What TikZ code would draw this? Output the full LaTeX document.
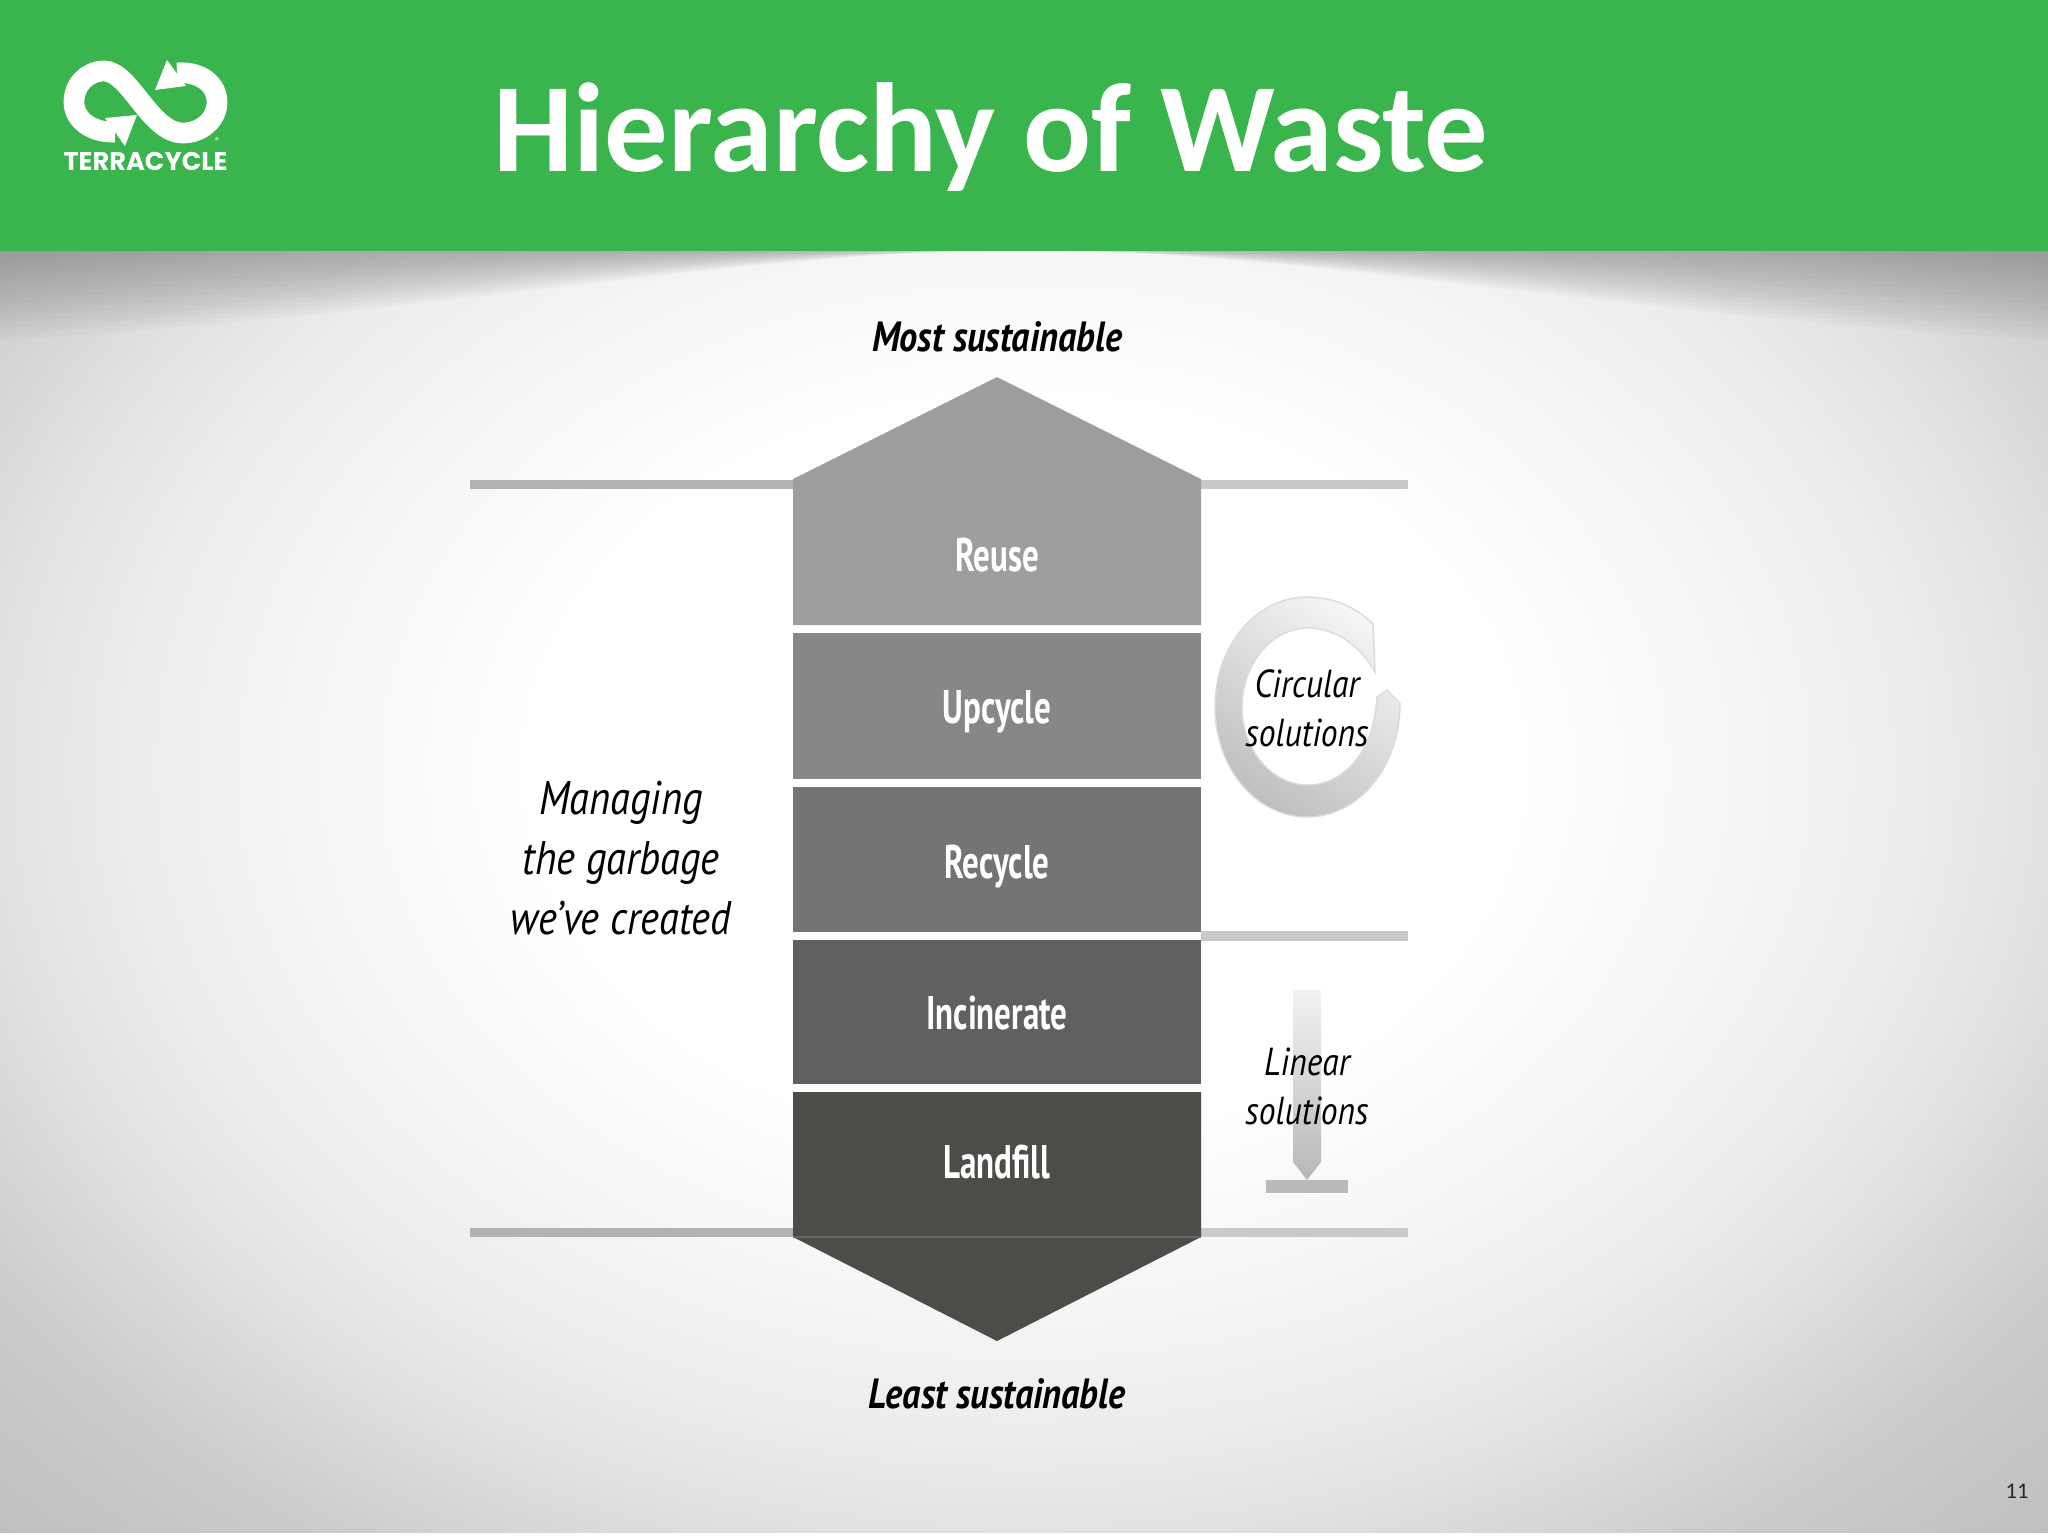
\documentclass[tikz,border=0pt]{standalone}
\usepackage{fontspec}
\setmainfont{Carlito}
\newfontfamily\logofont{Poppins}
\newfontfamily\barfont[FakeStretch=0.70]{PT Sans}
\newfontfamily\notefont[FakeStretch=0.86]{PT Sans}
\definecolor{bandgreen}{HTML}{3AB54D}
\definecolor{reusegray}{HTML}{9E9D9F}
\definecolor{upcyclegray}{HTML}{868885}
\definecolor{recyclegray}{HTML}{747572}
\definecolor{incinerategray}{HTML}{625F62}
\definecolor{landfillgray}{HTML}{4D4C48}
\pgfdeclareradialshading{slidebg}{\pgfpointorigin}{rgb(0bp)=(1,1,1); rgb(12bp)=(1,1,1); rgb(17bp)=(0.965,0.965,0.975); rgb(22bp)=(0.925,0.925,0.935); rgb(25bp)=(0.885,0.885,0.895); rgb(30bp)=(0.8,0.8,0.81); rgb(35.5bp)=(0.75,0.75,0.76); rgb(50bp)=(0.75,0.75,0.76)}
\tikzset{
  barlabel/.style={text=white, font=\barfont\bfseries\fontsize{13.4}{16}\selectfont, anchor=base},
  endlabel/.style={text=black, font=\notefont\bfseries\itshape\fontsize{12}{14}\selectfont, anchor=base},
  sidelabel/.style={text=black, font=\notefont\itshape\fontsize{11.1}{13.9}\selectfont, align=center},
  sideline/.style={fill=black!21},
  leftline/.style={fill=black!30}
}
\begin{document}
\begin{tikzpicture}[x=0.01cm, y=-0.01cm]
            \useasboundingbox (0,0) rectangle (2048,1536);
            % slide background
            \shade[shading=slidebg] (0,0) rectangle (2048,1536);
            \fill[white] (0,1533) rectangle (2048,1536);
            % shadow under the band
            \foreach \d in {6,12,...,90} {
              \fill[black!55, opacity=0.045] (0,250) -- (0,250+\d)
                .. controls (450,250+0.7*\d) and (750,250) .. (1024,250)
                .. controls (1300,250) and (1600,250+0.7*\d) .. (2048,250+\d)
                -- (2048,250) -- cycle;
            }
            % band
            \fill[bandgreen] (0,0) rectangle (2048,251);
            \node (title) [text=white, anchor=base, font=\bfseries\fontsize{36}{40}\selectfont] at (991,171) {Hierarchy of Waste};
            % logo
            \draw[white, line width=5.9pt] (115,132) .. controls (92,133) and (74,120) .. (74,102)
                  .. controls (74,84) and (88,71) .. (104,71)
                  .. controls (130,71) and (150,133) .. (183,133)
                  .. controls (201,133) and (217,120) .. (217,102)
                  .. controls (217,84) and (200,71) .. (177,73);
            \fill[white] (137,115) -- (105,118) -- (125,146) -- cycle;
            \fill[white] (155,90) -- (167,60) -- (186,86) -- cycle;
            \node (logoname) [text=white, anchor=base, inner sep=0pt, font=\logofont\bfseries\fontsize{7.3}{8}\selectfont] at (145.5,170) {TERRACYCLE};
            \node (logomark) [text=white, inner sep=0pt, font=\logofont\fontsize{2.4}{3}\selectfont] at (217,141) {®};
            % side rules
            \fill[leftline] (470,480) rectangle (793,489);
            \fill[leftline] (470,1228) rectangle (793,1237);
            \fill[sideline] (1201,480) rectangle (1408,489);
            \fill[sideline] (1201,931) rectangle (1408,941);
            \fill[sideline] (1201,1228) rectangle (1408,1237);
            % levels
            \fill[reusegray] (997,377) -- (1201,479) -- (1201,625) -- (793,625) -- (793,479) -- cycle;
            \fill[upcyclegray] (793,633) rectangle (1201,779);
            \fill[recyclegray] (793,787) rectangle (1201,932);
            \fill[incinerategray] (793,940) rectangle (1201,1084);
            \fill[landfillgray] (793,1092) -- (1201,1092) -- (1201,1237) -- (997,1341) -- (793,1237) -- cycle;
            \draw[landfillgray!85!white, thin] (793,1237) -- (1201,1237);
            \node (reuse) [barlabel] at (997,571) {Reuse};
            \node (upcycle) [barlabel] at (997,723) {Upcycle};
            \node (recycle) [barlabel] at (997,878) {Recycle};
            \node (incinerate) [barlabel] at (997,1029) {Incinerate};
            \node (landfill) [barlabel] at (997,1178) {Landfill};
            \node (most) [endlabel] at (997,351) {Most sustainable};
            \node (least) [endlabel] at (997,1408) {Least sustainable};
            \node (managing) [sidelabel, font=\notefont\itshape\fontsize{13.4}{17}\selectfont] at (621,858) {Managing\\the garbage\\we’ve created};
            % circular arrow
            \shadedraw[top color=black!4, bottom color=black!25, shading angle=-35, draw=black!14, thin]
                  (1373,624) .. controls (1355,606) and (1332,597) .. (1307,597)
                  .. controls (1256,597) and (1215,646) .. (1215,707)
                  .. controls (1215,768) and (1256,817) .. (1307,817)
                  .. controls (1358,817) and (1400,768) .. (1400,703)
                  -- (1387,690) -- (1377,697)
                  .. controls (1375,720) and (1371,736) .. (1363,750)
                  .. controls (1350,772) and (1330,785) .. (1308,785)
                  .. controls (1272,785) and (1242,750) .. (1242,707)
                  .. controls (1242,664) and (1272,628) .. (1308,628)
                  .. controls (1335,628) and (1360,645) .. (1375,672) -- cycle;
            \node (circular) [sidelabel] at (1307,708) {Circular\\solutions};
            % linear arrow
            \shade[top color=black!5, bottom color=black!28] (1293,990) -- (1321,990) -- (1321,1162) -- (1307,1180) -- (1293,1162) -- cycle;
            \fill[black!27] (1266,1180) rectangle (1348,1193);
            \node (linear) [sidelabel] at (1307,1086) {Linear\\solutions};
            % page number
            \node (pagenum) [text=black!85, anchor=base, font=\fontsize{6.4}{8}\selectfont] at (2017,1498) {11};
          \end{tikzpicture}
\end{document}
